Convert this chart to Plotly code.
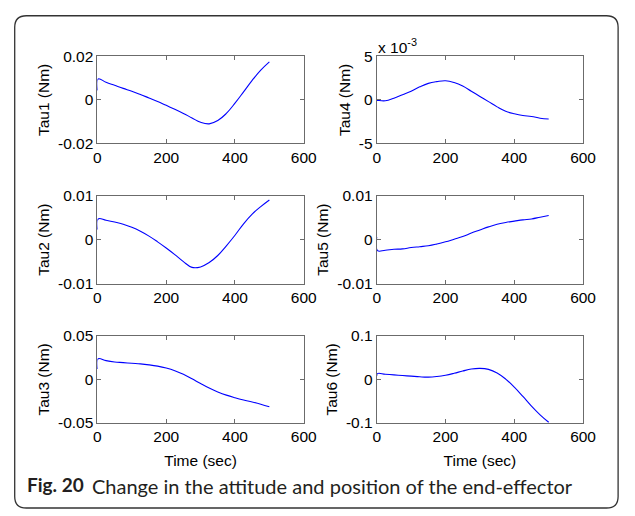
import plotly.graph_objects as go

W, H = 635, 516

# ---- data ----
time_s = [0, 2, 25, 50, 75, 100, 125, 150, 175, 200, 225, 250, 275, 300,
          325, 350, 375, 400, 425, 450, 475, 500]

tau1 = [0.0044, 0.0096, 0.0081, 0.0067, 0.0053, 0.0040, 0.0025, 0.0009, -0.0007,
        -0.0025, -0.0043, -0.0062, -0.0083, -0.0103, -0.0110, -0.0095, -0.0062,
        -0.0015, 0.0037, 0.0090, 0.0137, 0.0175]
tau2 = [0.0023, 0.0047, 0.0044, 0.0040, 0.0035, 0.0028, 0.0019, 0.0008, -0.0005,
        -0.0019, -0.0034, -0.0050, -0.0063, -0.0062, -0.0052, -0.0036, -0.0014,
        0.0010, 0.0036, 0.0058, 0.0075, 0.0090]
tau3 = [0.0119, 0.0237, 0.0215, 0.0200, 0.0193, 0.0185, 0.0178, 0.0167, 0.0152,
        0.0130, 0.0100, 0.0059, 0.0007, -0.0048, -0.0100, -0.0144, -0.0181,
        -0.0211, -0.0237, -0.0259, -0.0285, -0.0315]
tau4 = [-0.00005, -0.00005, -0.0001, 0.0002, 0.0006, 0.0010, 0.0015, 0.0019, 0.0021,
        0.0022, 0.0020, 0.0016, 0.0010, 0.0004, -0.0002, -0.0008, -0.0013,
        -0.0016, -0.0018, -0.0019, -0.0021, -0.0022]
tau5 = [0.0006, -0.0025, -0.0024, -0.0022, -0.0021, -0.0018, -0.0016, -0.0014, -0.0010,
        -0.0005, 0.0001, 0.0007, 0.0015, 0.0022, 0.0029, 0.0035, 0.0039,
        0.0042, 0.0045, 0.0047, 0.0051, 0.0055]
tau6 = [0.0074, 0.0133, 0.0118, 0.0104, 0.0089, 0.0074, 0.0059, 0.0052, 0.0067,
        0.0096, 0.0140, 0.0192, 0.0237, 0.0252, 0.0230, 0.0148, 0.0007,
        -0.0178, -0.0392, -0.0614, -0.0814, -0.0985]

panel_names = ["Tau1 (Nm)", "Tau4 (Nm)", "Tau2 (Nm)", "Tau5 (Nm)", "Tau3 (Nm)", "Tau6 (Nm)"]
panel_series = [tau1, tau4, tau2, tau5, tau3, tau6]
panel_limits = [0.02, 0.005, 0.01, 0.01, 0.05, 0.1]
panel_ticktext = [["-0.02", "0", "0.02"], ["-5", "0", "5"], ["-0.01", "0", "0.01"],
                  ["-0.01", "0", "0.01"], ["-0.05", "0", "0.05"], ["-0.1", "0", "0.1"]]
x_ticks = [0, 200, 400, 600]
x_label = "Time (sec)"
exponent_label = "x 10<sup>-3</sup>"
caption_bold = "Fig. 20"
caption_text = "Change in the attitude and position of the end-effector"

# ---- layout geometry (pixels) ----
cols_px = [(96, 308), (383, 595)]
rows_px = [(49, 139), (193, 284), (338, 428)]

def px(x):
    return x / W

def py(y):
    return 1 - y / H

AX = "#6b6b6b"
FONT = "Liberation Sans, Arial, sans-serif"
FS = 15.5

fig = go.Figure()
layout = dict(width=W, height=H, margin=dict(l=0, r=0, t=0, b=0),
              paper_bgcolor="white", plot_bgcolor="white", showlegend=False,
              font=dict(family=FONT, size=FS, color="black"))

for i, (name, ys, lim, ttxt) in enumerate(zip(panel_names, panel_series, panel_limits, panel_ticktext)):
    r, c = divmod(i, 2)
    k = "" if i == 0 else str(i + 1)
    fig.add_trace(go.Scatter(x=time_s, y=ys, mode="lines", xaxis="x" + k, yaxis="y" + k,
                             line=dict(color="#0000ff", width=1.1, shape="spline", smoothing=1.2),
                             hoverinfo="skip"))
    x0, x1 = cols_px[c]
    y0, y1 = rows_px[r]
    common = dict(showline=True, linecolor=AX, linewidth=1, mirror="ticks", ticks="inside",
                  ticklen=4, tickcolor=AX, showgrid=False, zeroline=False,
                  tickfont=dict(family=FONT, size=FS, color="black"))
    xax = dict(domain=[px(x0), px(x1)], anchor="y" + k, range=[0, 600],
               tickvals=x_ticks, ticktext=[str(v) for v in x_ticks], **common)
    if r == 2:
        xax["title"] = dict(text=x_label, standoff=10, font=dict(family=FONT, size=FS))
    layout["xaxis" + k] = xax
    layout["yaxis" + k] = dict(domain=[py(y1), py(y0)], anchor="x" + k, range=[-lim, lim],
                               tickvals=[-lim, 0, lim], ticktext=ttxt,
                               title=dict(text=name, standoff=4, font=dict(family=FONT, size=FS)),
                               **common)

fig.update_layout(**layout)

# exponent label for Tau4
fig.add_annotation(x=px(382), y=py(38), xref="paper", yref="paper", text=exponent_label,
                   showarrow=False, xanchor="left", yanchor="middle",
                   font=dict(family=FONT, size=FS, color="black"))

# caption
fig.add_annotation(x=px(22), y=py(492), xref="paper", yref="paper",
                   text="<b>" + caption_bold + "</b>",
                   showarrow=False, xanchor="left", yanchor="middle",
                   font=dict(family="Lato, Noto Sans, sans-serif", size=19, color="#231f20"))
fig.add_annotation(x=px(88), y=py(493), xref="paper", yref="paper",
                   text=caption_text,
                   showarrow=False, xanchor="left", yanchor="middle",
                   font=dict(family="Lato, Noto Sans, sans-serif", size=20, color="#231f20"))

# rounded frame
L, T, R, B, rad = 11, 7, 631, 516, 12
path = (f"M {px(L+rad)},{py(T)} L {px(R-rad)},{py(T)} Q {px(R)},{py(T)} {px(R)},{py(T+rad)} "
        f"L {px(R)},{py(B-rad)} Q {px(R)},{py(B)} {px(R-rad)},{py(B)} "
        f"L {px(L+rad)},{py(B)} Q {px(L)},{py(B)} {px(L)},{py(B-rad)} "
        f"L {px(L)},{py(T+rad)} Q {px(L)},{py(T)} {px(L+rad)},{py(T)} Z")
fig.add_shape(type="path", path=path, xref="paper", yref="paper",
              line=dict(color="#333", width=1.3))

fig.write_html("out.html")
